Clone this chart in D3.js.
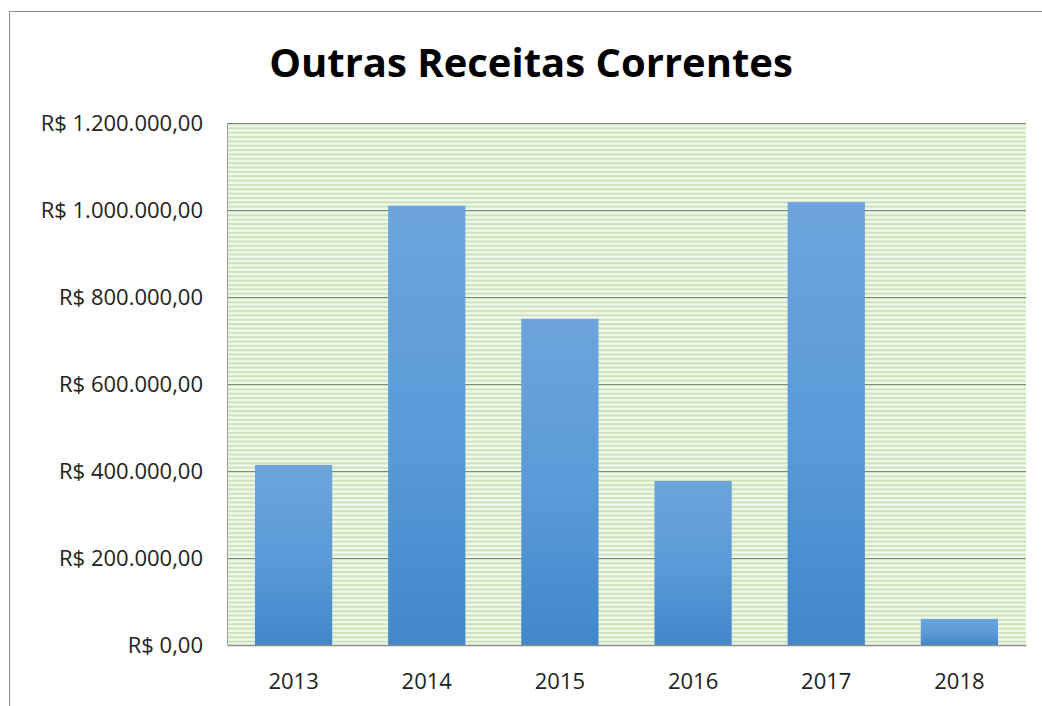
<!DOCTYPE html>
<html>
<head>
<meta charset="utf-8">
<script src="https://cdn.jsdelivr.net/npm/d3@7"></script>
<style>
  body { margin: 0; background: #fff; }
  svg { display: block; }
</style>
</head>
<body>
<svg id="chart" width="1042" height="706"></svg>
<script>
var years = ['2013', '2014', '2015', '2016', '2017', '2018'];
var receitas = [414000, 1010000, 750000, 377000, 1018000, 60000];
var yTicks = [0, 200000, 400000, 600000, 800000, 1000000, 1200000];

var width = 1042, height = 706;
var plotLeft = 227, plotRight = 1026, plotTop = 123, plotBottom = 645;

var svg = d3.select('#chart');
var defs = svg.append('defs');

// horizontal green stripes, like the Excel pattern fill
var pat = defs.append('pattern')
  .attr('id', 'stripes')
  .attr('patternUnits', 'userSpaceOnUse')
  .attr('width', 8).attr('height', 4.35)
  .attr('y', plotTop);
pat.append('rect').attr('width', 8).attr('height', 4.35).attr('fill', '#f1f8ec');
pat.append('rect').attr('y', 0).attr('width', 8).attr('height', 2).attr('fill', '#cbe2bb');

var grad = defs.append('linearGradient')
  .attr('id', 'barGrad')
  .attr('x1', 0).attr('y1', 0).attr('x2', 0).attr('y2', 1);
grad.append('stop').attr('offset', '0%').attr('stop-color', '#6da4dd');
grad.append('stop').attr('offset', '50%').attr('stop-color', '#5b9bd8');
grad.append('stop').attr('offset', '100%').attr('stop-color', '#4287cb');

var x = d3.scaleBand()
  .domain(years)
  .range([plotLeft, plotRight])
  .paddingInner(0.42)
  .paddingOuter(0.21);

var y = d3.scaleLinear()
  .domain([0, 1200000])
  .range([plotBottom, plotTop]);

// outer chart border
svg.append('rect')
  .attr('x', 9.5).attr('y', 11.5)
  .attr('width', 1040).attr('height', 700)
  .attr('fill', 'none')
  .attr('stroke', '#8c8c8c');

svg.append('rect')
  .attr('x', plotLeft).attr('y', plotTop)
  .attr('width', plotRight - plotLeft).attr('height', plotBottom - plotTop)
  .attr('fill', 'url(#stripes)');

// gridlines
svg.append('g').selectAll('line').data(yTicks.slice(1)).enter()
  .append('line')
  .attr('x1', plotLeft).attr('x2', plotRight)
  .attr('y1', function(d) { return Math.round(y(d)) + 0.5; })
  .attr('y2', function(d) { return Math.round(y(d)) + 0.5; })
  .attr('stroke', '#7d8a77')
  .attr('stroke-width', 1.2);

svg.append('line')
  .attr('x1', plotLeft + 0.5).attr('x2', plotLeft + 0.5)
  .attr('y1', plotTop).attr('y2', plotBottom)
  .attr('stroke', '#9aa596');

svg.append('g').selectAll('rect').data(receitas).enter()
  .append('rect')
  .attr('x', function(d, i) { return x(years[i]); })
  .attr('y', function(d) { return y(d); })
  .attr('width', x.bandwidth())
  .attr('height', function(d) { return plotBottom - y(d); })
  .attr('fill', 'url(#barGrad)');

// axes
var fmt = function(v) {
  var s = d3.format(',')(v).replace(/,/g, '.');
  return 'R$ ' + s + ',00';
};

var yAxis = svg.append('g')
  .attr('transform', 'translate(' + plotLeft + ',0)')
  .call(d3.axisLeft(y).tickValues(yTicks).tickSize(0).tickPadding(24).tickFormat(fmt));
yAxis.select('.domain').remove();
yAxis.selectAll('text')
  .attr('font-family', 'Open Sans, sans-serif')
  .attr('font-size', '22px')
  .attr('fill', '#222')
  .attr('dy', '0.35em');

var xAxis = svg.append('g')
  .attr('transform', 'translate(0,' + plotBottom + ')')
  .call(d3.axisBottom(x).tickSize(0).tickPadding(28));
xAxis.select('.domain').attr('stroke', '#8a8a8a').attr('stroke-width', 1.3);
xAxis.selectAll('text')
  .attr('font-family', 'Open Sans, sans-serif')
  .attr('font-size', '22px')
  .attr('fill', '#222');

svg.append('text')
  .attr('x', 531)
  .attr('y', 77)
  .attr('text-anchor', 'middle')
  .attr('font-family', 'Open Sans, sans-serif')
  .attr('font-weight', 'bold')
  .attr('font-size', '40px')
  .attr('fill', '#000')
  .text('Outras Receitas Correntes');
</script>
</body>
</html>
